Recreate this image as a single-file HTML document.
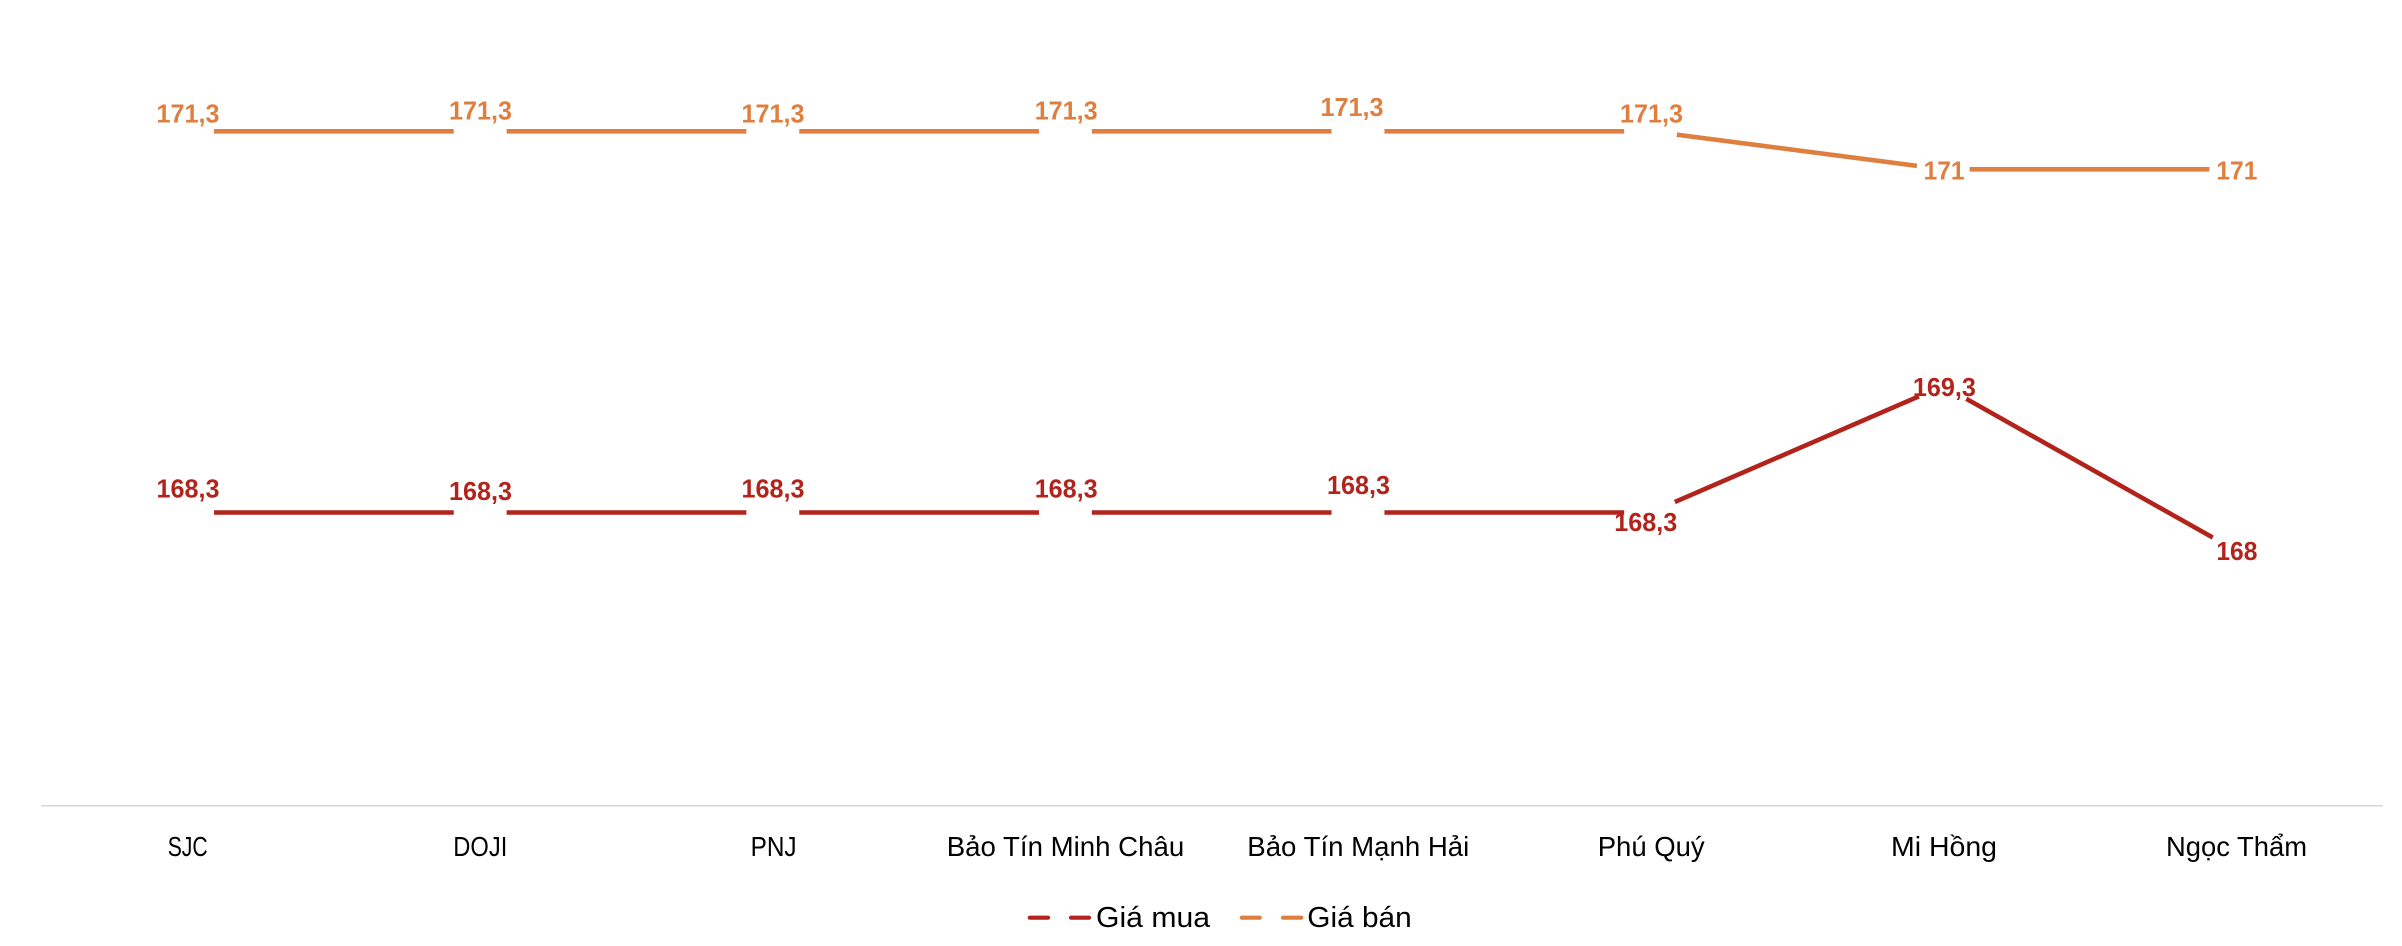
<!DOCTYPE html>
<html>
<head>
<meta charset="utf-8">
<style>
  html, body { margin: 0; padding: 0; background: #ffffff; }
  body { width: 2402px; height: 946px; overflow: hidden; }
  svg { display: block; }
  .lbl { font-family: "Liberation Sans", Arial, sans-serif; font-weight: bold; font-size: 26px; }
  .cat { font-family: "Liberation Sans", Arial, sans-serif; font-size: 28px; fill: #000; }
  .leg { font-family: "Liberation Sans", Arial, sans-serif; font-size: 29px; fill: #000; }
</style>
</head>
<body>
<svg width="2402" height="946" viewBox="0 0 2402 946" xmlns="http://www.w3.org/2000/svg">
  <rect x="0" y="0" width="2402" height="946" fill="#ffffff"/>

  <!-- x axis -->
  <line x1="41" y1="805.8" x2="2383" y2="805.8" stroke="#d9d9d9" stroke-width="1.7"/>

  <!-- Giá bán (orange) -->
  <polyline fill="none" stroke="#DF7F3F" stroke-width="4.6" stroke-linecap="butt" stroke-linejoin="miter"
    points="187.6,131.3 480.2,131.3 772.8,131.3 1065.4,131.3 1358,131.3 1650.6,131.3 1943.2,169.3 2235.8,169.3"/>
  <!-- Giá mua (red) -->
  <polyline fill="none" stroke="#B2241B" stroke-width="4.6" stroke-linecap="butt" stroke-linejoin="miter"
    points="187.6,512.5 480.2,512.5 772.8,512.5 1065.4,512.5 1358,512.5 1650.6,512.5 1943.2,385.8 2235.8,550.5"/>

  <!-- white markers creating gaps -->
  <g fill="#ffffff">
    <circle cx="187.6" cy="131.3" r="26.5"/>
    <circle cx="480.2" cy="131.3" r="26.5"/>
    <circle cx="772.8" cy="131.3" r="26.5"/>
    <circle cx="1065.4" cy="131.3" r="26.5"/>
    <circle cx="1358" cy="131.3" r="26.5"/>
    <circle cx="1650.6" cy="131.3" r="26.5"/>
    <circle cx="1943.2" cy="169.3" r="26.5"/>
    <circle cx="2235.8" cy="169.3" r="26.5"/>
    <circle cx="187.6" cy="512.5" r="26.5"/>
    <circle cx="480.2" cy="512.5" r="26.5"/>
    <circle cx="772.8" cy="512.5" r="26.5"/>
    <circle cx="1065.4" cy="512.5" r="26.5"/>
    <circle cx="1358" cy="512.5" r="26.5"/>
    <circle cx="1650.6" cy="512.5" r="26.5"/>
    <circle cx="1943.2" cy="385.8" r="26.5"/>
    <circle cx="2235.8" cy="550.5" r="26.5"/>
  </g>

  <!-- orange data labels -->
  <g class="lbl" fill="#DF7F3F">
    <text x="156.5" y="122.7" textLength="63" lengthAdjust="spacingAndGlyphs">171,3</text>
    <text x="449" y="119.3" textLength="63" lengthAdjust="spacingAndGlyphs">171,3</text>
    <text x="741.5" y="122.7" textLength="63" lengthAdjust="spacingAndGlyphs">171,3</text>
    <text x="1034.7" y="119.3" textLength="63" lengthAdjust="spacingAndGlyphs">171,3</text>
    <text x="1320.5" y="116" textLength="63" lengthAdjust="spacingAndGlyphs">171,3</text>
    <text x="1620" y="122.7" textLength="63" lengthAdjust="spacingAndGlyphs">171,3</text>
    <text x="1923.6" y="179.3" textLength="41" lengthAdjust="spacingAndGlyphs">171</text>
    <text x="2216.4" y="179.3" textLength="41" lengthAdjust="spacingAndGlyphs">171</text>
  </g>

  <!-- red data labels -->
  <g class="lbl" fill="#B2241B">
    <text x="156.5" y="497.3" textLength="63" lengthAdjust="spacingAndGlyphs">168,3</text>
    <text x="449" y="500" textLength="63" lengthAdjust="spacingAndGlyphs">168,3</text>
    <text x="741.5" y="497.3" textLength="63" lengthAdjust="spacingAndGlyphs">168,3</text>
    <text x="1034.7" y="497.3" textLength="63" lengthAdjust="spacingAndGlyphs">168,3</text>
    <text x="1327" y="494" textLength="63" lengthAdjust="spacingAndGlyphs">168,3</text>
    <text x="1614.3" y="531" textLength="63" lengthAdjust="spacingAndGlyphs">168,3</text>
    <text x="1912.9" y="396" textLength="63" lengthAdjust="spacingAndGlyphs">169,3</text>
    <text x="2216.4" y="560" textLength="41" lengthAdjust="spacingAndGlyphs">168</text>
  </g>

  <!-- category labels -->
  <g class="cat">
    <text x="167.7" y="856" textLength="40" lengthAdjust="spacingAndGlyphs">SJC</text>
    <text x="453.3" y="856" textLength="54" lengthAdjust="spacingAndGlyphs">DOJI</text>
    <text x="750.6" y="856" textLength="46" lengthAdjust="spacingAndGlyphs">PNJ</text>
    <text x="946.7" y="856" textLength="237.5" lengthAdjust="spacingAndGlyphs">Bảo Tín Minh Châu</text>
    <text x="1247.3" y="856" textLength="222" lengthAdjust="spacingAndGlyphs">Bảo Tín Mạnh Hải</text>
    <text x="1597.7" y="856" textLength="107" lengthAdjust="spacingAndGlyphs">Phú Quý</text>
    <text x="1891" y="856" textLength="106" lengthAdjust="spacingAndGlyphs">Mi Hồng</text>
    <text x="2166" y="856" textLength="141" lengthAdjust="spacingAndGlyphs">Ngọc Thẩm</text>
  </g>

  <!-- legend -->
  <g stroke-width="4.2" stroke-linecap="round">
    <line x1="1029.8" y1="917.7" x2="1048" y2="917.7" stroke="#B2241B"/>
    <line x1="1071" y1="917.7" x2="1089" y2="917.7" stroke="#B2241B"/>
    <line x1="1241.8" y1="917.7" x2="1259.7" y2="917.7" stroke="#DF7F3F"/>
    <line x1="1283" y1="917.7" x2="1301.3" y2="917.7" stroke="#DF7F3F"/>
  </g>
  <g class="leg">
    <text x="1096" y="927" textLength="114" lengthAdjust="spacingAndGlyphs">Giá mua</text>
    <text x="1307.3" y="927" textLength="104.4" lengthAdjust="spacingAndGlyphs">Giá bán</text>
  </g>
</svg>
</body>
</html>
